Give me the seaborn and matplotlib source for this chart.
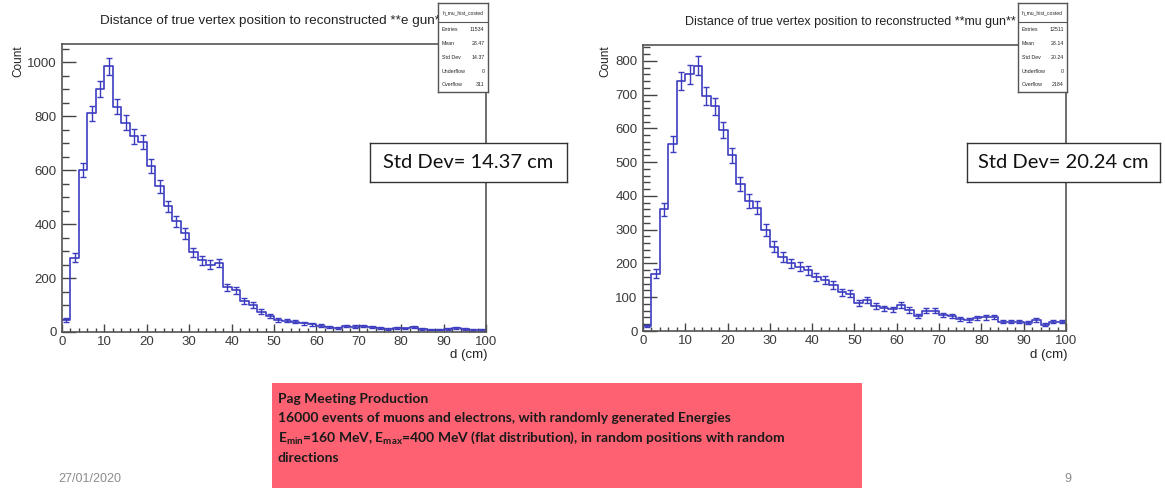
import numpy as np
import pandas as pd
import seaborn as sns
import matplotlib.pyplot as plt
from matplotlib.ticker import MultipleLocator

sns.set_style("white")
plt.rcParams['font.family'] = ['Liberation Sans', 'DejaVu Sans']
plt.rcParams['mathtext.fontset'] = 'custom'
plt.rcParams['mathtext.rm'] = 'Lato'
plt.rcParams['mathtext.bf'] = 'Lato:bold'

# histogram data, 2 cm bins from 0 to 100
bin_edges = np.arange(0, 102, 2)
e_counts = [45, 275, 600, 810, 900, 985, 835, 775, 725, 705,
            615, 540, 465, 410, 365, 295, 265, 250, 255, 165,
            155, 115, 100, 75, 60, 45, 42, 38, 33, 28,
            24, 18, 15, 22, 20, 22, 18, 16, 12, 14,
            13, 18, 12, 9, 9, 10, 15, 10, 8, 8]
mu_counts = [15, 170, 360, 555, 740, 760, 785, 695, 665, 595,
             520, 435, 385, 365, 300, 250, 220, 200, 190, 180,
             160, 150, 135, 115, 110, 84, 92, 74, 67, 64,
             77, 62, 45, 60, 60, 47, 44, 36, 33, 38,
             40, 42, 28, 28, 28, 25, 33, 18, 28, 28]

titles = ["Distance of true vertex position to reconstructed **e gun**",
          "Distance of true vertex position to reconstructed **mu gun**"]
stat_names = ["Entries", "Mean", "Std Dev", "Underflow", "Overflow"]
e_stats = ["11534", "28.47", "14.37", "0", "311"]
mu_stats = ["12511", "28.14", "20.24", "0", "2184"]
std_labels = ["Std Dev= 14.37 cm", "Std Dev= 20.24 cm"]

W, H = 1165, 488
fig = plt.figure(figsize=(W / 100, H / 100), dpi=100)
fig.patch.set_facecolor("white")


def box(x0, y0, x1, y1):
    # pixel box (top-left origin) -> figure fraction rect
    return [x0 / W, 1 - y1 / H, (x1 - x0) / W, (y1 - y0) / H]


hist_col = "#3c3cc0"
tick_col = "#3a3a3a"
centers = (bin_edges[:-1] + bin_edges[1:]) / 2

panels = [
    (e_counts, box(62, 44, 486, 332), 1067, 200, 50, e_stats, (438, 3, 488, 92), 100, 21, 9.7, 18, (370, 143, 567, 182), 488),
    (mu_counts, box(643, 45, 1066, 331), 847, 100, 20, mu_stats, (1018, 3, 1067, 92), 685, 22, 9, 605, (967, 143, 1160, 182), 1068),
]

for i, (counts, rect, ytop, ymaj, ymin, stats, sbox, tx, ty, tfs, cx, sdbox, dx) in enumerate(panels):
    ax = fig.add_axes(rect)
    df = pd.DataFrame({"d": centers, "n": counts})
    sns.histplot(data=df, x="d", weights="n", binwidth=2, binrange=(0, 100), element="step",
                 fill=False, color=hist_col, linewidth=1.2, ax=ax)
    ax.errorbar(df["d"], df["n"], yerr=np.sqrt(df["n"]), fmt="none",
                ecolor=hist_col, elinewidth=1.0, capsize=2, capthick=1.0)
    ax.set_xlim(0, 100)
    ax.set_ylim(0, ytop)
    ax.set_xlabel("")
    ax.set_ylabel("")
    ax.xaxis.set_major_locator(MultipleLocator(10))
    ax.xaxis.set_minor_locator(MultipleLocator(2))
    ax.yaxis.set_major_locator(MultipleLocator(ymaj))
    ax.yaxis.set_minor_locator(MultipleLocator(ymin))
    ax.tick_params(which="both", direction="in", left=True, bottom=True,
                   colors="#444444", labelcolor=tick_col, labelsize=9.5)
    ax.tick_params(axis="y", which="major", length=10, width=1, pad=4)
    ax.tick_params(axis="y", which="minor", length=5, width=1)
    ax.tick_params(axis="x", which="major", length=6, width=1, pad=3)
    ax.tick_params(axis="x", which="minor", length=3, width=1)
    for s in ax.spines.values():
        s.set_color("#555555")
        s.set_linewidth(1.2)

    fig.text(tx / W, 1 - ty / H, titles[i], fontsize=tfs, ha="left", va="center", color="#222222")
    fig.text(cx / W, 1 - 45 / H, "Count", rotation=90, fontsize=8.5, ha="center", va="top", color="#222222")
    fig.text(dx / W, 1 - 355 / H, "d (cm)", fontsize=9.5, ha="right", va="center", color="#222222")

    # stats box
    sx = fig.add_axes(box(*sbox))
    sx.set_zorder(10)
    sx.set_facecolor("white")
    sx.set_xticks([])
    sx.set_yticks([])
    for s in sx.spines.values():
        s.set_color("#555555")
        s.set_linewidth(1.0)
    sx.set_xlim(0, 1)
    sx.set_ylim(0, 1)
    sx.axhline(0.79, color="#555555", lw=0.8)
    sx.text(0.5, 0.895, "h_mu_hist_costed", fontsize=3.6, ha="center", va="center")
    for k, (n, v) in enumerate(zip(stat_names, stats)):
        yy = 0.70 - k * 0.155
        sx.text(0.08, yy, n, fontsize=3.8, ha="left", va="center")
        sx.text(0.93, yy, v, fontsize=3.8, ha="right", va="center")

    # std dev annotation box
    bx = fig.add_axes(box(*sdbox))
    bx.set_zorder(10)
    bx.set_facecolor("white")
    bx.set_xticks([])
    bx.set_yticks([])
    for s in bx.spines.values():
        s.set_color("#333333")
        s.set_linewidth(1.0)
    bx.text(0.5, 0.5, std_labels[i], fontsize=14.5, family="Lato",
            ha="center", va="center", transform=bx.transAxes, color="#111111")

# pink information box
px = fig.add_axes(box(272, 383, 862, 488))
px.set_facecolor("#fe6272")
px.set_xticks([])
px.set_yticks([])
for s in px.spines.values():
    s.set_visible(False)
info_lines = ["Pag Meeting Production",
              "16000 events of muons and electrons, with randomly generated Energies",
              r"$\mathbf{E_{min}}$=160 MeV, $\mathbf{E_{max}}$=400 MeV (flat distribution), in random positions with random",
              "directions"]
for k, line in enumerate(info_lines):
    fig.text(278 / W, 1 - (399 + k * 19.5) / H, line, fontsize=10, family="Lato",
             fontweight="bold", ha="left", va="center", color="#1a1a1a")

fig.text(58 / W, 1 - 479 / H, "27/01/2020", fontsize=9, color="#8c8c8c", ha="left", va="center")
fig.text(1068 / W, 1 - 479 / H, "9", fontsize=9, color="#8c8c8c", ha="center", va="center")

plt.savefig("out.png", dpi=100)
